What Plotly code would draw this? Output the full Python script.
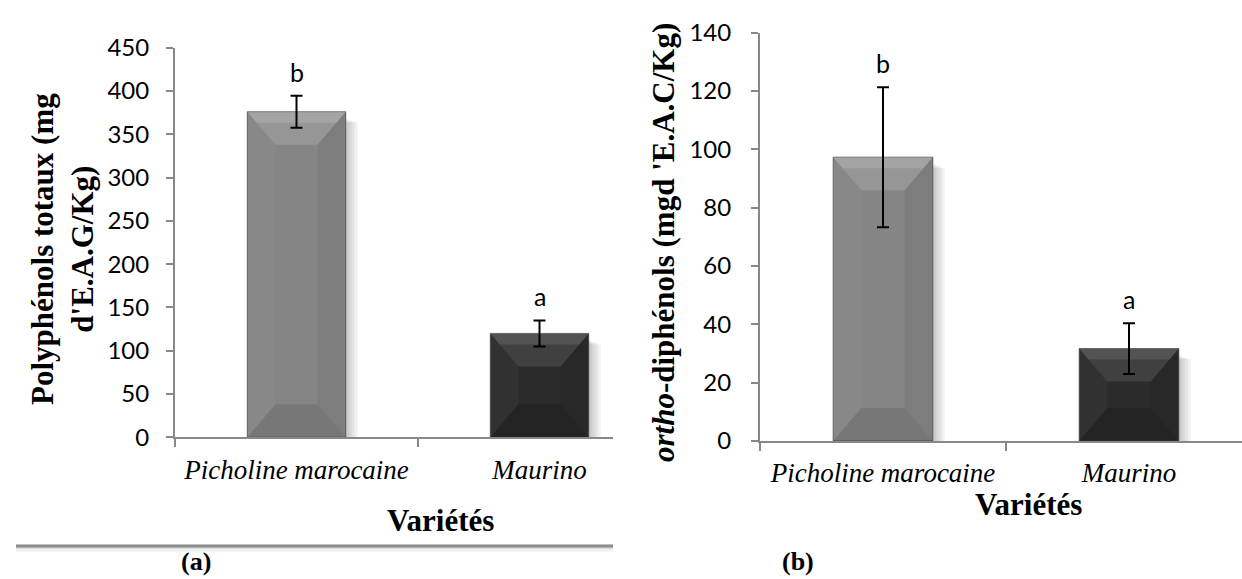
import plotly.graph_objects as go

# ---- data -------------------------------------------------------------
varietes = ["Picholine marocaine", "Maurino"]

polyphenols = [376, 120]          # mg d'E.A.G/Kg
polyphenols_err = [18.5, 15]
polyphenols_grp = ["b", "a"]

orthodiphenols = [97.3, 31.7]     # mg d'E.A.C/Kg
orthodiphenols_err = [24, 8.7]
orthodiphenols_grp = ["b", "a"]

y_ticks_a = [0, 50, 100, 150, 200, 250, 300, 350, 400, 450]
y_ticks_b = [0, 20, 40, 60, 80, 100, 120, 140]

bar_colors = ["#858585", "#2b2b2b"]

# ---- canvas / panel geometry (pixels) ----------------------------------
W, H = 1242, 579
AXIS_GRAY = "#888888"
BAR_W = 0.405

panels = [
    dict(x0=175, x1=613, zero=437.3, top=47.7, ymax=450, catw=243,
         vals=polyphenols, errs=polyphenols_err, grp=polyphenols_grp,
         ticks=y_ticks_a, ax="", standoff_y=12, standoff_x=7),
    dict(x0=760, x1=1242, zero=441.0, top=32.6, ymax=140, catw=246,
         vals=orthodiphenols, errs=orthodiphenols_err, grp=orthodiphenols_grp,
         ticks=y_ticks_b, ax="2", standoff_y=15, standoff_x=7),
]

fig = go.Figure()
shapes = []
annotations = []


def poly(xs, ys, color, xa, ya):
    return go.Scatter(x=xs + [xs[0]], y=ys + [ys[0]], mode="lines", fill="toself",
                      fillcolor=color, line=dict(width=0), hoverinfo="skip",
                      showlegend=False, xaxis=xa, yaxis=ya)


for p in panels:
    xa = "x" + p["ax"]
    ya = "y" + p["ax"]
    pxx = p["catw"]                                   # px per category unit
    pxy = (p["zero"] - p["top"]) / p["ymax"]          # px per value unit
    xs = list(range(len(varietes)))
    hw = BAR_W / 2

    # drop shadow on the right of each bar
    for c, v in zip(xs, p["vals"]):
        for k in (3, 6, 9, 12):
            shapes.append(dict(type="rect", xref=xa, yref=ya, layer="below",
                               x0=c + hw, x1=c + hw + k / pxx,
                               y0=0, y1=v - (6 + k * 0.4) / pxy,
                               fillcolor="rgba(0,0,0,0.055)", line=dict(width=0)))

    fig.add_trace(go.Bar(x=xs, y=p["vals"], width=BAR_W,
                         marker=dict(color=bar_colors,
                                     line=dict(color="rgba(60,60,60,0.7)", width=1)),
                         showlegend=False, xaxis=xa, yaxis=ya))

    # bevel facets on each bar
    for c, v, base in zip(xs, p["vals"], bar_colors):
        h_px = v * pxy
        d_px = min(33, h_px / 2)
        i_px = min(d_px * 0.85, hw * pxx)
        dy, ix = d_px / pxy, i_px / pxx
        L, R = c - hw, c + hw
        dark = base == "#2b2b2b"
        top_c = "rgba(255,255,255,0.10)" if dark else "rgba(255,255,255,0.14)"
        bot_c = "rgba(0,0,0,0.14)" if dark else "rgba(0,0,0,0.10)"
        fig.add_trace(poly([L, R, R - ix, L + ix], [v, v, v - dy, v - dy], top_c, xa, ya))
        fig.add_trace(poly([L, R, R - ix / 3, L + ix / 3], [v, v, v - dy / 3, v - dy / 3],
                           top_c, xa, ya))
        fig.add_trace(poly([L, R, R - ix, L + ix], [0, 0, dy, dy], bot_c, xa, ya))
        fig.add_trace(poly([R, R, R - ix, R - ix], [v, 0, dy, v - dy],
                           "rgba(0,0,0,0.06)", xa, ya))
        fig.add_trace(poly([L, L, L + ix, L + ix], [v, 0, dy, v - dy],
                           "rgba(255,255,255,0.03)", xa, ya))

    # error bars on top of everything
    fig.add_trace(go.Scatter(x=xs, y=p["vals"], mode="markers",
                             marker=dict(size=1, color="rgba(0,0,0,0)"),
                             error_y=dict(type="data", array=p["errs"], visible=True,
                                          color="black", thickness=2, width=6),
                             showlegend=False, hoverinfo="skip", xaxis=xa, yaxis=ya))

    # significance letters
    for c, v, e, g in zip(xs, p["vals"], p["errs"], p["grp"]):
        annotations.append(dict(x=c, y=v + e, xref=xa, yref=ya, text=g,
                                showarrow=False, yanchor="middle", yshift=24,
                                font=dict(family="Lato", size=25, color="black")))

    # faint shadow under the category axis
    shapes.append(dict(type="line", xref=xa, yref=ya, layer="below",
                       x0=-0.5, x1=-0.5 + (p["x1"] - p["x0"]) / pxx,
                       y0=-3 / pxy, y1=-3 / pxy,
                       line=dict(color="rgba(0,0,0,0.07)", width=4)))

    x_dom = [p["x0"] / W, p["x1"] / W]
    y_dom = [(H - p["zero"]) / H, (H - p["top"]) / H]
    fig.update_layout(**{
        "xaxis" + p["ax"]: dict(
            domain=x_dom, range=[-0.5, -0.5 + (p["x1"] - p["x0"]) / pxx],
            tickmode="array", tickvals=xs, ticktext=varietes, ticks="",
            ticklabelstandoff=p["standoff_x"], automargin=False,
            tickfont=dict(family="Liberation Serif", size=27, style="italic",
                          color="black"),
            showline=True, linecolor=AXIS_GRAY, linewidth=2, showgrid=False,
            zeroline=False, anchor=ya, fixedrange=True,
            minor=dict(tickmode="array", tickvals=[-0.5, 0.5], ticks="outside",
                       ticklen=8, tickwidth=2, tickcolor=AXIS_GRAY, showgrid=False)),
        "yaxis" + p["ax"]: dict(
            domain=y_dom, range=[0, p["ymax"]], tickmode="array",
            tickvals=p["ticks"], ticks="outside", ticklen=7, tickwidth=2,
            tickcolor=AXIS_GRAY, ticklabelstandoff=p["standoff_y"], automargin=False,
            tickfont=dict(family="Lato", size=24, color="black"),
            showline=True, linecolor=AXIS_GRAY, linewidth=2, showgrid=False,
            zeroline=False, anchor=xa, fixedrange=True),
    })


def paper(px, py):
    return px / W, 1 - py / H


title_font = dict(family="Liberation Serif", size=31, color="black")

# axis titles and panel labels
for text, px, py, angle in [
    ("<b>Polyphénols totaux (mg<br>d'E.A.G/Kg)</b>", 63, 249, -90),
    ("<b><i>ortho</i>-diphénols (mgd 'E.A.C/Kg)</b>", 664, 243, -90),
    ("<b>Variétés</b>", 440, 520, 0),
    ("<b>Variétés</b>", 1028, 504, 0),
]:
    x, y = paper(px, py)
    annotations.append(dict(x=x, y=y, xref="paper", yref="paper", text=text,
                            textangle=angle, showarrow=False, xanchor="center",
                            yanchor="middle", font=title_font))

for text, px in [("<b>(a)</b>", 196), ("<b>(b)</b>", 798)]:
    x, y = paper(px, 561)
    annotations.append(dict(x=x, y=y, xref="paper", yref="paper", text=text,
                            showarrow=False, xanchor="center", yanchor="middle",
                            font=dict(family="Liberation Serif", size=26, color="black")))

# bottom frame edge of the first chart, with its soft shadow
for dy, col, wd in [(2, "rgba(0,0,0,0.06)", 7), (1, "rgba(0,0,0,0.08)", 4),
                    (0, "#8c8c8c", 3)]:
    _, yl = paper(0, 546 + dy)
    shapes.append(dict(type="line", xref="paper", yref="paper",
                       x0=16 / W, x1=613 / W, y0=yl, y1=yl,
                       line=dict(color=col, width=wd)))

fig.update_layout(width=W, height=H, autosize=False,
                  margin=dict(l=0, r=0, t=0, b=0, pad=0),
                  paper_bgcolor="white", plot_bgcolor="rgba(0,0,0,0)",
                  shapes=shapes, annotations=annotations, showlegend=False,
                  barmode="overlay")

fig.write_html("out.html")
